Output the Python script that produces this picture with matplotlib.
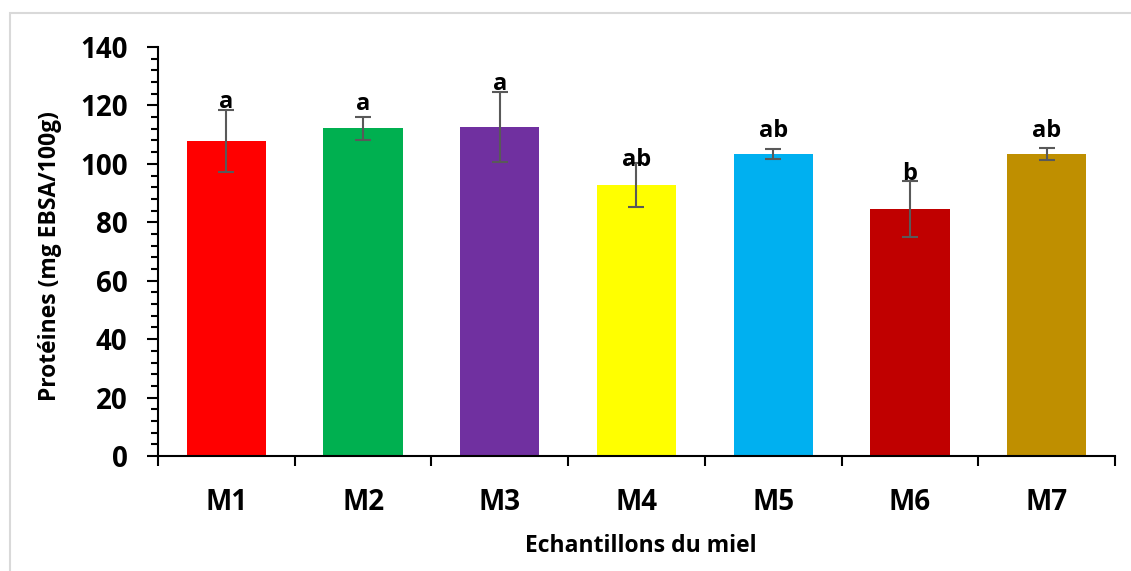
import matplotlib.pyplot as plt
from matplotlib.patches import Rectangle
from matplotlib.ticker import MultipleLocator, FixedLocator, NullFormatter

samples = ['M1', 'M2', 'M3', 'M4', 'M5', 'M6', 'M7']
proteines = [107.8, 112.2, 112.6, 92.8, 103.4, 84.6, 103.4]
ecart_type = [10.7, 3.9, 12.0, 7.6, 1.7, 9.6, 2.0]
lettres = ['a', 'a', 'a', 'ab', 'ab', 'b', 'ab']
couleurs = ['#ff0000', '#00b050', '#7030a0', '#ffff00', '#00b0f0', '#c00000', '#bf8f00']

# letters were placed by hand in the original, small shift above each error bar
DECALAGE = [0.6, 2.4, 0.7, -1.0, 4.2, 0.3, 3.9]

FONT = ['Open Sans', 'DejaVu Sans']

fig = plt.figure(figsize=(11.31, 5.71), dpi=100)
ax = fig.add_axes([158 / 1131, 1 - 456 / 571, (1115 - 158) / 1131, (456 - 47) / 571])

# light grey frame of the chart area
fig.patches.append(Rectangle((10 / 1131, -0.1), 1.2, 1 - 13 / 571 + 0.1,
                             transform=fig.transFigure, fill=False,
                             edgecolor='#d9d9d9', linewidth=1.5))

x = list(range(1, len(samples) + 1))
ax.bar(x, proteines, width=0.58, color=couleurs, zorder=2)
ax.errorbar(x, proteines, yerr=ecart_type, fmt='none', ecolor='#595959',
            elinewidth=1.5, capsize=5.5, capthick=1.5, zorder=3)

for xi, m, s, l, d in zip(x, proteines, ecart_type, lettres, DECALAGE):
    ax.text(xi, m + s + d, l, ha='center', va='baseline', fontsize=17,
            fontweight='bold', family=FONT, zorder=4)

ax.set_xlim(0.5, 7.5)
ax.set_ylim(0, 140)
ax.yaxis.set_major_locator(MultipleLocator(20))
ax.yaxis.set_minor_locator(MultipleLocator(4))
ax.xaxis.set_major_locator(FixedLocator([i + 0.5 for i in range(8)]))
ax.xaxis.set_major_formatter(NullFormatter())
ax.xaxis.set_minor_locator(FixedLocator(x))
ax.set_xticklabels(samples, minor=True)

for sp in ['top', 'right']:
    ax.spines[sp].set_visible(False)
for sp in ['left', 'bottom']:
    ax.spines[sp].set_linewidth(1.5)

ax.tick_params(axis='y', which='major', length=8, width=1.5, pad=14, labelsize=20)
ax.tick_params(axis='y', which='minor', length=5, width=1.5)
ax.tick_params(axis='x', which='major', length=7, width=1.5)
ax.tick_params(axis='x', which='minor', length=0, pad=23, labelsize=20)
for lab in ax.get_yticklabels() + ax.get_xticklabels(minor=True):
    lab.set_fontweight('bold')
    lab.set_family(FONT)

ax.set_ylabel('Protéines (mg EBSA/100g)', fontsize=16.5, fontweight='bold', family=FONT)
ax.set_xlabel('Echantillons du miel', fontsize=16.5, fontweight='bold', family=FONT)
ax.yaxis.set_label_coords(-0.100, 0.489)
ax.xaxis.set_label_coords(0.505, -0.19)

fig.savefig('out.png', dpi=100)
